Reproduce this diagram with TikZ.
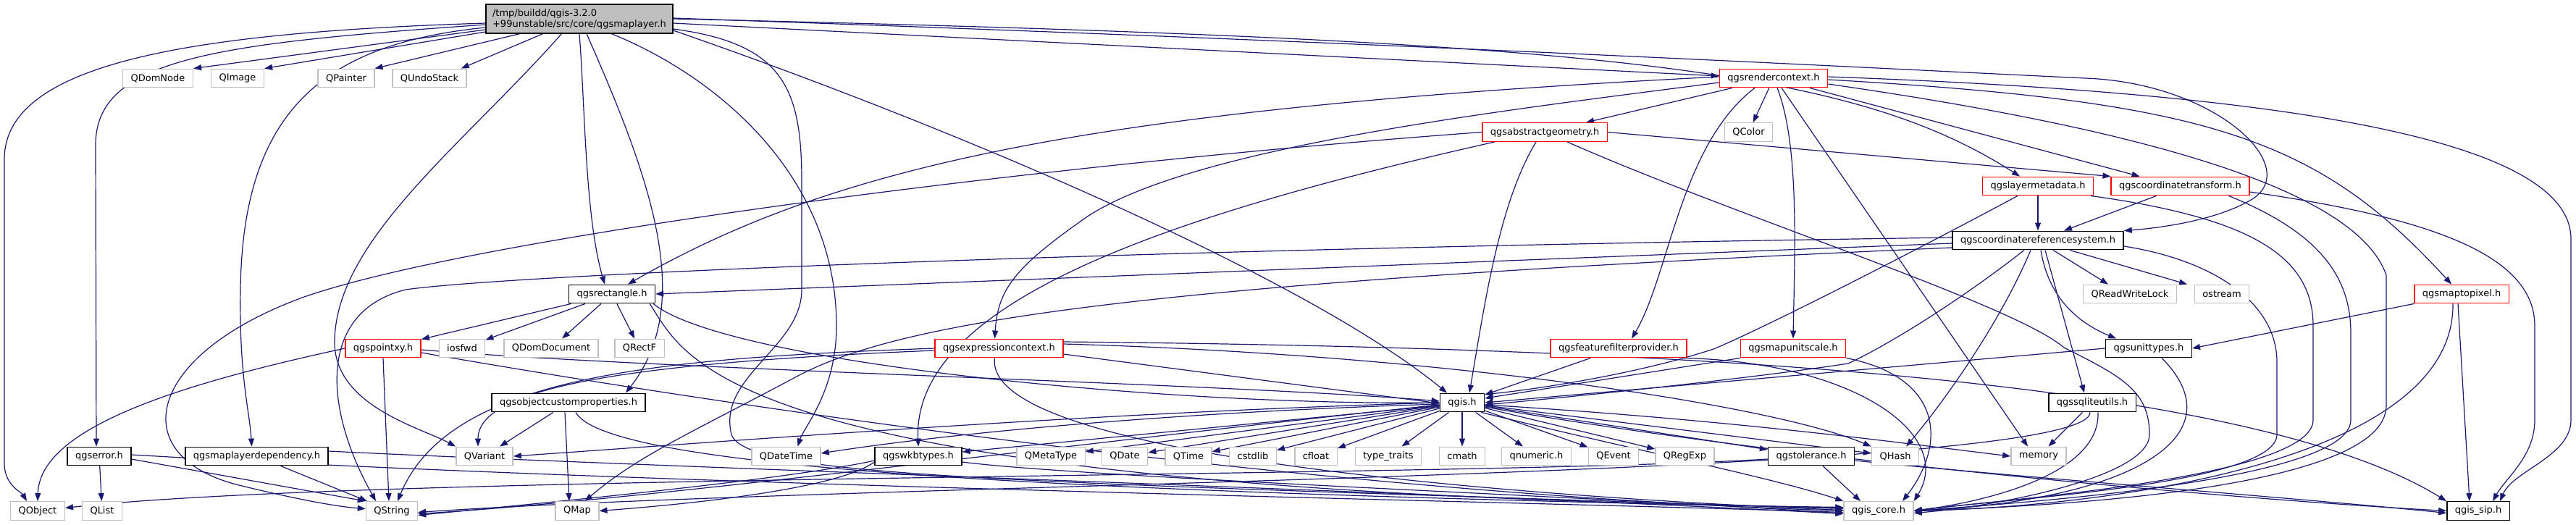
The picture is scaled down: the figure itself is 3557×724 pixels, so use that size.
\documentclass[tikz,border=0pt]{standalone}
\usepackage{fontspec}
\setmainfont{DejaVu Sans}
\usetikzlibrary{arrows.meta, backgrounds}
\definecolor{edgeblue}{HTML}{191970}
\definecolor{extgrey}{HTML}{BFBFBF}
\definecolor{truncred}{HTML}{FF0000}
\definecolor{rootfill}{HTML}{BFBFBF}

\begin{document}
\begin{tikzpicture}[x=1pt, y=-1pt, >={Triangle[length=11pt,width=8pt]}]
  \tikzstyle{blk}=[rectangle, draw=black, fill=white, line width=1.4pt,
                   minimum height=25.5pt, inner xsep=11pt, inner ysep=0pt,
                   font=\fontsize{13}{15}\selectfont]
  \tikzstyle{ext}=[blk, draw=extgrey]
  \tikzstyle{trunc}=[blk, draw=truncred]
  \tikzstyle{rootnode}=[blk, fill=rootfill, minimum height=40pt, inner xsep=9pt, align=left]
  \tikzstyle{inc}=[->, draw=edgeblue, line width=1.2pt]

  \useasboundingbox (0,0) rectangle (3557,724);

  % the header itself
  \node[rootnode] (root) at (800,26) {/tmp/buildd/qgis-3.2.0\\+99unstable/src/core/qgsmaplayer.h};

  % rows from top to bottom
  \node[ext] (qdomnode) at (218,108) {QDomNode};
  \node[ext] (qimage) at (328,108) {QImage};
  \node[ext] (qpainter) at (478,108) {QPainter};
  \node[ext] (qundostack) at (593,108) {QUndoStack};
  \node[trunc] (rctx) at (2449,108) {qgsrendercontext.h};

  \node[trunc] (absg) at (2133,182.5) {qgsabstractgeometry.h};
  \node[ext] (qcolor) at (2414.5,182.5) {QColor};

  \node[trunc] (lmeta) at (2814,257) {qgslayermetadata.h};
  \node[trunc] (ctrans) at (3010.5,257) {qgscoordinatetransform.h};

  \node[blk] (crs) at (2814,332) {qgscoordinatereferencesystem.h};

  \node[blk] (qrect) at (845,406) {qgsrectangle.h};
  \node[ext] (qreadwritelock) at (2941,406) {QReadWriteLock};
  \node[ext] (ostream) at (3068,406) {ostream};
  \node[trunc] (m2p) at (3399,406) {qgsmaptopixel.h};

  \node[trunc] (pxy) at (529,481) {qgspointxy.h};
  \node[ext] (iosfwd) at (638,481) {iosfwd};
  \node[ext] (qdomdocument) at (761,481) {QDomDocument};
  \node[ext] (qrectf) at (883,481) {QRectF};
  \node[trunc] (expr) at (1379.5,481) {qgsexpressioncontext.h};
  \node[trunc] (ffp) at (2235,481) {qgsfeaturefilterprovider.h};
  \node[trunc] (mus) at (2476,481) {qgsmapunitscale.h};
  \node[blk] (utypes) at (2967,481) {qgsunittypes.h};

  \node[blk] (ocp) at (785,556) {qgsobjectcustomproperties.h};
  \node[blk] (qgis) at (2019,556) {qgis.h};
  \node[blk] (sqlite) at (2889,556) {qgssqliteutils.h};

  \node[blk] (err) at (137,630) {qgserror.h};
  \node[blk] (mldep) at (354.5,630) {qgsmaplayerdependency.h};
  \node[ext] (qvariant) at (669,630) {QVariant};
  \node[ext] (qdatetime) at (1085.5,630) {QDateTime};
  \node[blk] (wkb) at (1268,630) {qgswkbtypes.h};
  \node[ext] (qmetatype) at (1451,630) {QMetaType};
  \node[ext] (qdate) at (1553,630) {QDate};
  \node[ext] (qtime) at (1641,630) {QTime};
  \node[ext] (cstdlib) at (1730,630) {cstdlib};
  \node[ext] (cfloat) at (1817,630) {cfloat};
  \node[ext] (typetraits) at (1917,630) {type\_traits};
  \node[ext] (cmath) at (2019,630) {cmath};
  \node[ext] (qnumeric) at (2121.5,630) {qnumeric.h};
  \node[ext] (qevent) at (2228,630) {QEvent};
  \node[ext] (qregexp) at (2326.5,630) {QRegExp};
  \node[blk] (tol) at (2501,630) {qgstolerance.h};
  \node[ext] (qhash) at (2617,630) {QHash};
  \node[ext] (memory) at (2815,630) {memory};

  \node[ext] (qobject) at (52,705.5) {QObject};
  \node[ext] (qlist) at (141,705.5) {QList};
  \node[ext] (qstring) at (541,705.5) {QString};
  \node[ext] (qmap) at (797,705.5) {QMap};
  \node[ext] (core) at (2594,705.5) {qgis\_core.h};
  \node[blk] (sip) at (3422,705.5) {qgis\_sip.h};

  \begin{scope}[on background layer]
  % qgsmaplayer.h
  \draw[inc] ([yshift=-6pt]root.west) .. controls (250,45) and (6,90) .. (6,220) -- (6,640) .. controls (6,670) and (30,680) .. ([xshift=-15pt]qobject.north);
  \draw[inc] ([yshift=-8pt]root.west) .. controls (300,60) and (132,80) .. (132,200) -- ([xshift=-4pt]err.north);
  \draw[inc] ([yshift=-12pt]root.west) .. controls (450,60) and (335,150) .. (332,400) .. controls (330,520) and (345,570) .. ([xshift=-7pt]mldep.north);
  \draw[inc] ([yshift=-15pt]root.west) -- (qdomnode.north east);
  \draw[inc] ([yshift=-18pt]root.west) -- (qimage.north east);
  \draw[inc] ([xshift=47pt]root.south west) -- (qpainter.north east);
  \draw[inc] ([xshift=79pt]root.south west) -- ([xshift=-8pt]qundostack.north east);
  \draw[inc] ([xshift=105pt]root.south west) .. controls (640,200) and (465,330) .. (462,470) .. controls (460,560) and (580,590) .. (qvariant.north west);
  \draw[inc] (root.south) .. controls (808,150) and (808,300) .. ([xshift=-10pt]qrect.north);
  \draw[inc] ([xshift=10pt]root.south) .. controls (900,250) and (960,420) .. ([xshift=79pt]ocp.north);
  \draw[inc] ([xshift=-85pt]root.south east) .. controls (1000,110) and (1155,250) .. (1155,450) .. controls (1155,540) and (1110,590) .. ([xshift=16pt]qdatetime.north);
  \draw[inc] ([yshift=-14pt]root.east) .. controls (1080,60) and (1107,120) .. (1107,250) -- (1107,400) .. controls (1107,480) and (990,520) .. (1010,600) .. controls (1030,660) and (1400,665) .. ([yshift=3pt]core.west);
  \draw[inc] ([yshift=-16pt]root.east) .. controls (1300,170) and (1800,380) .. ([xshift=-21pt]qgis.north);
  \draw[inc] ([yshift=-6pt]root.east) -- ([yshift=3pt]rctx.west);
  \draw[inc] (root.east) .. controls (2200,55) and (2550,90) .. ([xshift=-25pt]lmeta.north);
  \draw[inc] ([yshift=1pt]root.east) .. controls (2000,62) and (2600,95) .. (2880,108) .. controls (3060,115) and (3180,230) .. (3110,275) .. controls (3060,305) and (2980,315) .. (crs.north east);

  % qgsrendercontext.h
  \draw[inc] (rctx) -- (absg);
  \draw[inc] (rctx) -- (qcolor);
  \draw[inc] ([xshift=50pt]rctx.south) -- ([xshift=-56pt]ctrans.north);
  \draw[inc] ([yshift=-6pt]rctx.west) .. controls (2100,150) and (1650,200) .. (1500,300) .. controls (1400,370) and (1378,400) .. ([xshift=-6pt]expr.north);
  \draw[inc] ([xshift=-26pt]rctx.south) .. controls (2320,200) and (2305,380) .. ([xshift=18pt]ffp.north);
  \draw[inc] ([xshift=5pt]rctx.south) .. controls (2485,200) and (2478,350) .. (mus.north);
  \draw[inc] ([xshift=11pt]rctx.south) -- ([xshift=-15pt]memory.north);
  \draw[inc] ([yshift=-2pt]rctx.east) .. controls (3050,140) and (3200,190) .. ([xshift=-14pt]m2p.north);
  \draw[inc] ([yshift=2pt]rctx.east) .. controls (3200,130) and (3550,200) .. (3550,330) -- (3550,580) .. controls (3550,630) and (3470,650) .. ([xshift=30pt]sip.north);
  \draw[inc] ([yshift=2pt]rctx.west) .. controls (1500,150) and (1150,230) .. ([xshift=22pt]qrect.north);
  \draw[inc] ([yshift=-8pt]rctx.east) .. controls (2900,170) and (3250,250) .. (3295,380) -- (3295,560) .. controls (3295,680) and (2800,700) .. (core.east);

  % qgsabstractgeometry.h
  \draw[inc] (absg.east) -- (ctrans.north west);
  \draw[inc] (absg.west) .. controls (1400,230) and (650,330) .. (420,410) .. controls (200,490) and (170,630) .. (330,670) .. controls (420,692) and (470,700) .. ([yshift=3pt]qstring.west);
  \draw[inc] ([xshift=-12pt]absg.south) .. controls (2070,280) and (2050,420) .. ([xshift=10pt]qgis.north);
  \draw[inc] ([xshift=-69pt]absg.south) .. controls (1600,300) and (1260,420) .. (wkb.north);
  \draw[inc] ([xshift=31pt]absg.south) .. controls (2400,300) and (2780,420) .. (2850,480) .. controls (2930,520) and (2968,540) .. (2968,600) .. controls (2968,660) and (2750,700) .. ([yshift=-3pt]core.east);

  % qgslayermetadata.h, qgscoordinatetransform.h
  \draw[inc] (lmeta) -- (crs);
  \draw[inc] ([xshift=-28pt]lmeta.south) .. controls (2600,370) and (2420,460) .. (2366,482) .. controls (2250,520) and (2100,540) .. ([yshift=-2pt]qgis.north east);
  \draw[inc] ([xshift=-4pt]lmeta.south east) .. controls (3100,300) and (3194,350) .. (3194,450) -- (3194,580) .. controls (3194,660) and (2760,690) .. (core.east);
  \draw[inc] ([xshift=-33pt]ctrans.south) -- ([xshift=36pt]crs.north);
  \draw[inc] ([xshift=67pt]ctrans.south) .. controls (3200,320) and (3246,380) .. (3246,460) -- (3246,580) .. controls (3246,665) and (2780,695) .. (core.east);
  \draw[inc] ([yshift=-8pt]ctrans.east) .. controls (3350,300) and (3500,350) .. (3500,450) -- (3500,580) .. controls (3500,630) and (3460,660) .. ([xshift=20pt]sip.north);

  % qgscoordinatereferencesystem.h
  \draw[inc] ([yshift=-4pt]crs.west) -- (qrect.east);
  \draw[inc] ([xshift=21pt]crs.south) -- ([xshift=-30pt]qreadwritelock.north);
  \draw[inc] ([xshift=44pt]crs.south) -- ([xshift=-48pt]ostream.north);
  \draw[inc] ([xshift=4pt]crs.south) .. controls (2830,420) and (2880,450) .. ([xshift=-45pt]utypes.north);
  \draw[inc] ([xshift=10pt]crs.south) -- ([xshift=-11pt]sqlite.north);
  \draw[inc] ([xshift=-19pt]crs.south) .. controls (2700,420) and (2600,480) .. (2552,502) .. controls (2400,525) and (2150,550) .. ([yshift=-3pt]qgis.east);
  \draw[inc] ([xshift=-10pt]crs.south) .. controls (2760,450) and (2680,560) .. ([xshift=15pt]qhash.north);
  \draw[inc] ([yshift=-8pt]crs.east) .. controls (3060,360) and (3144,420) .. (3144,500) -- (3144,600) .. controls (3144,670) and (2750,690) .. (core.east);
  \draw[inc] ([yshift=4pt]crs.west) .. controls (1500,345) and (700,380) .. (560,400) .. controls (440,430) and (445,560) .. ([xshift=-22pt]qstring.north);
  \draw[inc] ([yshift=-10pt]crs.west) .. controls (1600,390) and (1250,440) .. (1100,520) .. controls (950,600) and (880,630) .. ([xshift=-20pt]qmap.north east);

  % qgsmaptopixel.h, qgsunittypes.h, qgssqliteutils.h
  \draw[inc] (m2p.south west) -- (utypes.east);
  \draw[inc] ([xshift=-12pt]m2p.south) .. controls (3390,640) and (2900,700) .. (core.east);
  \draw[inc] ([xshift=-5pt]m2p.south) -- ([xshift=-12pt]sip.north);
  \draw[inc] (utypes.west) -- (qgis.east);
  \draw[inc] ([xshift=18pt]utypes.south) .. controls (3090,600) and (2950,690) .. (core.east);
  \draw[inc] (sqlite) -- (memory);
  \draw[inc] ([xshift=-3pt]sqlite.south) .. controls (2885,660) and (1200,665) .. ([yshift=-2pt]qstring.east);
  \draw[inc] ([xshift=8pt]sqlite.south) .. controls (2900,650) and (2760,690) .. (core.east);

  % qgsrectangle.h, qgspointxy.h
  \draw[inc] (qrect) -- (pxy);
  \draw[inc] (qrect) -- (iosfwd);
  \draw[inc] (qrect) -- (qdomdocument);
  \draw[inc] (qrect) -- (qrectf);
  \draw[inc] ([xshift=-8pt]qrect.south east) .. controls (950,500) and (1000,680) .. ([yshift=5pt]core.west);
  \draw[inc] ([xshift=-3pt]qrect.south east) .. controls (1000,500) and (1600,560) .. (qgis.west);
  \draw[inc] (pxy.west) .. controls (250,530) and (55,590) .. (qobject.north);
  \draw[inc] (pxy.south) -- ([xshift=-4pt]qstring.north);
  \draw[inc] ([yshift=-2pt]pxy.east) .. controls (900,510) and (1700,530) .. ([yshift=2pt]qgis.west);
  \draw[inc] ([yshift=-6pt]pxy.east) .. controls (1000,560) and (1800,680) .. (core.west);

  % qgsexpressioncontext.h, qgsfeaturefilterprovider.h, qgsmapunitscale.h
  \draw[inc] (expr.west) .. controls (900,495) and (620,520) .. ([xshift=8pt]qstring.north);
  \draw[inc] ([yshift=-3pt]expr.west) .. controls (900,500) and (660,530) .. ([xshift=-9pt]qvariant.north);
  \draw[inc] ([yshift=-8pt]expr.east) -- ([yshift=-1pt]qgis.west);
  \draw[inc] ([yshift=6pt]expr.east) .. controls (2000,490) and (2450,560) .. (qhash.north west);
  \draw[inc] ([xshift=-6pt]expr.south) .. controls (1355,640) and (2200,690) .. ([yshift=1pt]core.west);
  \draw[inc] ([yshift=9pt]expr.east) .. controls (2300,480) and (3100,520) .. (sip.north west);
  \draw[inc] (ffp) -- (qgis);
  \draw[inc] ([xshift=-5pt]ffp.south east) .. controls (2560,500) and (2700,600) .. (core.north east);
  \draw[inc] (mus.south west) -- ([yshift=6pt]qgis.east);
  \draw[inc] (mus.south east) .. controls (2680,520) and (2690,610) .. ([xshift=33pt]core.north);

  % qgsobjectcustomproperties.h, qgserror.h, qgsmaplayerdependency.h
  \draw[inc] (ocp) -- (qvariant);
  \draw[inc] ([xshift=-5pt]ocp.south) -- ([xshift=-11pt]qmap.north);
  \draw[inc] ([xshift=10pt]ocp.south) .. controls (840,650) and (1500,680) .. ([yshift=4pt]core.west);
  \draw[inc] (err) -- (qlist);
  \draw[inc] ([yshift=-4pt]err.east) -- (qstring.north west);
  \draw[inc] ([yshift=2pt]err.east) .. controls (900,670) and (2000,690) .. ([yshift=-2pt]core.west);
  \draw[inc] ([xshift=33pt]mldep.south) -- ([xshift=-34pt]qstring.north);
  \draw[inc] ([yshift=7pt]mldep.east) .. controls (900,645) and (2000,680) .. ([yshift=-4pt]core.west);

  % qgis.h
  \draw[inc] (qgis.west) .. controls (1500,570) and (1000,610) .. (qvariant.east);
  \draw[inc] ([yshift=-2pt]qgis.west) .. controls (1600,570) and (1300,600) .. ([yshift=4pt]qdatetime.east);
  \draw[inc] ([yshift=-4pt]qgis.west) -- ([yshift=6pt]wkb.east);
  \draw[inc] (qgis) -- (qmetatype);
  \draw[inc] (qgis) -- (qdate);
  \draw[inc] (qgis) -- (qtime);
  \draw[inc] (qgis) -- (cstdlib);
  \draw[inc] (qgis) -- (cfloat);
  \draw[inc] (qgis) -- (typetraits);
  \draw[inc] (qgis) -- (cmath);
  \draw[inc] (qgis) -- (qnumeric);
  \draw[inc] (qgis) -- (qevent);
  \draw[inc] (qgis) -- (qregexp);
  \draw[inc] (qgis) -- (tol);
  \draw[inc] (qgis) -- (qhash);
  \draw[inc] ([yshift=-3pt]qgis.east) .. controls (2400,580) and (2650,615) .. (memory.west);
  \draw[inc] ([xshift=-5pt]qgis.south east) .. controls (2250,620) and (2450,660) .. (core.north west);
  \draw[inc] ([yshift=-6pt]qgis.east) .. controls (2500,640) and (3100,690) .. (sip.west);
  \draw[inc] ([yshift=-3pt]qgis.west) .. controls (1500,610) and (900,690) .. ([yshift=-4pt]qstring.east);

  % qgswkbtypes.h, qgstolerance.h
  \draw[inc] ([yshift=-6pt]wkb.west) .. controls (1100,660) and (800,690) .. ([yshift=-6pt]qstring.east);
  \draw[inc] ([yshift=-8pt]wkb.west) .. controls (1150,680) and (900,700) .. (qmap.east);
  \draw[inc] ([yshift=-8pt]wkb.east) .. controls (1500,660) and (2300,690) .. ([yshift=-4pt]core.west);
  \draw[inc] ([yshift=-4pt]tol.west) .. controls (2000,660) and (500,655) .. ([yshift=4pt]qobject.east);
  \draw[inc] ([xshift=16pt]tol.south) -- ([xshift=-25pt]core.north);
  \draw[inc] ([yshift=-6pt]tol.east) .. controls (2800,660) and (3200,690) .. ([yshift=-3pt]sip.west);
  \end{scope}
\end{tikzpicture}
\end{document}
